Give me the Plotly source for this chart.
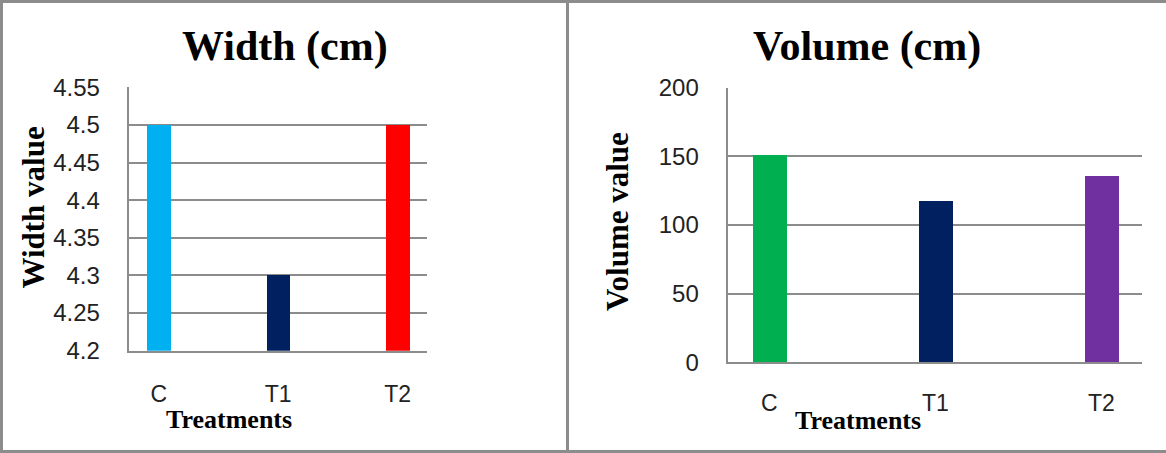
import plotly.graph_objects as go

W, H = 1166, 453

categories = ["C", "T1", "T2"]
width_values = [4.5, 4.3, 4.5]
volume_values = [151, 117.5, 135.7]
width_colors = ["#00B0F0", "#002060", "#FF0000"]
volume_colors = ["#00B050", "#002060", "#7030A0"]
width_ticks = [4.2, 4.25, 4.3, 4.35, 4.4, 4.45, 4.5, 4.55]
width_ticktext = ["4.2", "4.25", "4.3", "4.35", "4.4", "4.45", "4.5", "4.55"]
volume_ticks = [0, 50, 100, 150, 200]
volume_ticktext = ["0", "50", "100", "150", "200"]

GRID = "#8c8c8c"
YTICKFONT = dict(family="Liberation Sans, Arial, sans-serif", size=24, color="#222222")
XTICKFONT = dict(family="Liberation Sans, Arial, sans-serif", size=23, color="#222222")
SERIF = "Liberation Serif, Times New Roman, serif"

def px_x(p):
    return p / W

def px_y(p):
    return 1 - p / H

fig = go.Figure()
fig.add_trace(go.Bar(x=categories, y=width_values, marker=dict(color=width_colors, line=dict(width=0)),
                     width=0.2, xaxis="x", yaxis="y", showlegend=False))
fig.add_trace(go.Bar(x=categories, y=volume_values, marker=dict(color=volume_colors, line=dict(width=0)),
                     width=0.205, xaxis="x2", yaxis="y2", showlegend=False))

common_x = dict(type="category", range=[-0.252, 2.243], showgrid=False, showline=True,
                linecolor=GRID, linewidth=2, ticks="", tickfont=XTICKFONT,
                automargin=False, fixedrange=True)
common_y = dict(showgrid=True, gridcolor=GRID, gridwidth=2, showline=True, linecolor=GRID,
                linewidth=2, ticks="", tickfont=YTICKFONT, ticklabelstandoff=22,
                zeroline=False, automargin=False, fixedrange=True)

fig.update_layout(
    width=W, height=H,
    margin=dict(l=0, r=0, t=0, b=0, autoexpand=False),
    paper_bgcolor="white", plot_bgcolor="white",
    bargap=0,
    xaxis=dict(common_x, domain=[px_x(128.7), px_x(426.6)], anchor="y", ticklabelstandoff=22),
    yaxis=dict(common_y, domain=[px_y(350.7), px_y(87.3)], range=[4.2, 4.55],
               tickvals=width_ticks, ticktext=width_ticktext, anchor="x"),
    xaxis2=dict(common_x, domain=[px_x(727.6), px_x(1141.7)], anchor="y2", ticklabelstandoff=19),
    yaxis2=dict(common_y, domain=[px_y(362.3), px_y(87.7)], range=[0, 200],
                tickvals=volume_ticks, ticktext=volume_ticktext, anchor="x2"),
)

def ann(text, x, y, size, angle=0):
    fig.add_annotation(text=text, x=px_x(x), y=px_y(y), xref="paper", yref="paper",
                       showarrow=False, textangle=angle, xanchor="center", yanchor="middle",
                       font=dict(family=SERIF, size=size, color="black"))

ann("<b>Width (cm)</b>", 285, 47, 42)
ann("<b>Volume (cm)</b>", 867, 47, 42)
ann("<b>Width value</b>", 33, 207.5, 31, -90)
ann("<b>Volume value</b>", 617, 222, 31, -90)
ann("<b>Treatments</b>", 229, 419, 26)
ann("<b>Treatments</b>", 857.5, 420, 26)

# frame lines
frame = dict(type="line", xref="paper", yref="paper", line=dict(color=GRID, width=3))
fig.add_shape(frame, x0=0, x1=1, y0=px_y(1.5), y1=px_y(1.5))
fig.add_shape(frame, x0=0, x1=1, y0=px_y(451.5), y1=px_y(451.5))
fig.add_shape(frame, x0=px_x(1.5), x1=px_x(1.5), y0=0, y1=1)
fig.add_shape(frame, x0=px_x(567.5), x1=px_x(567.5), y0=0, y1=1)

fig.write_html("out.html")
